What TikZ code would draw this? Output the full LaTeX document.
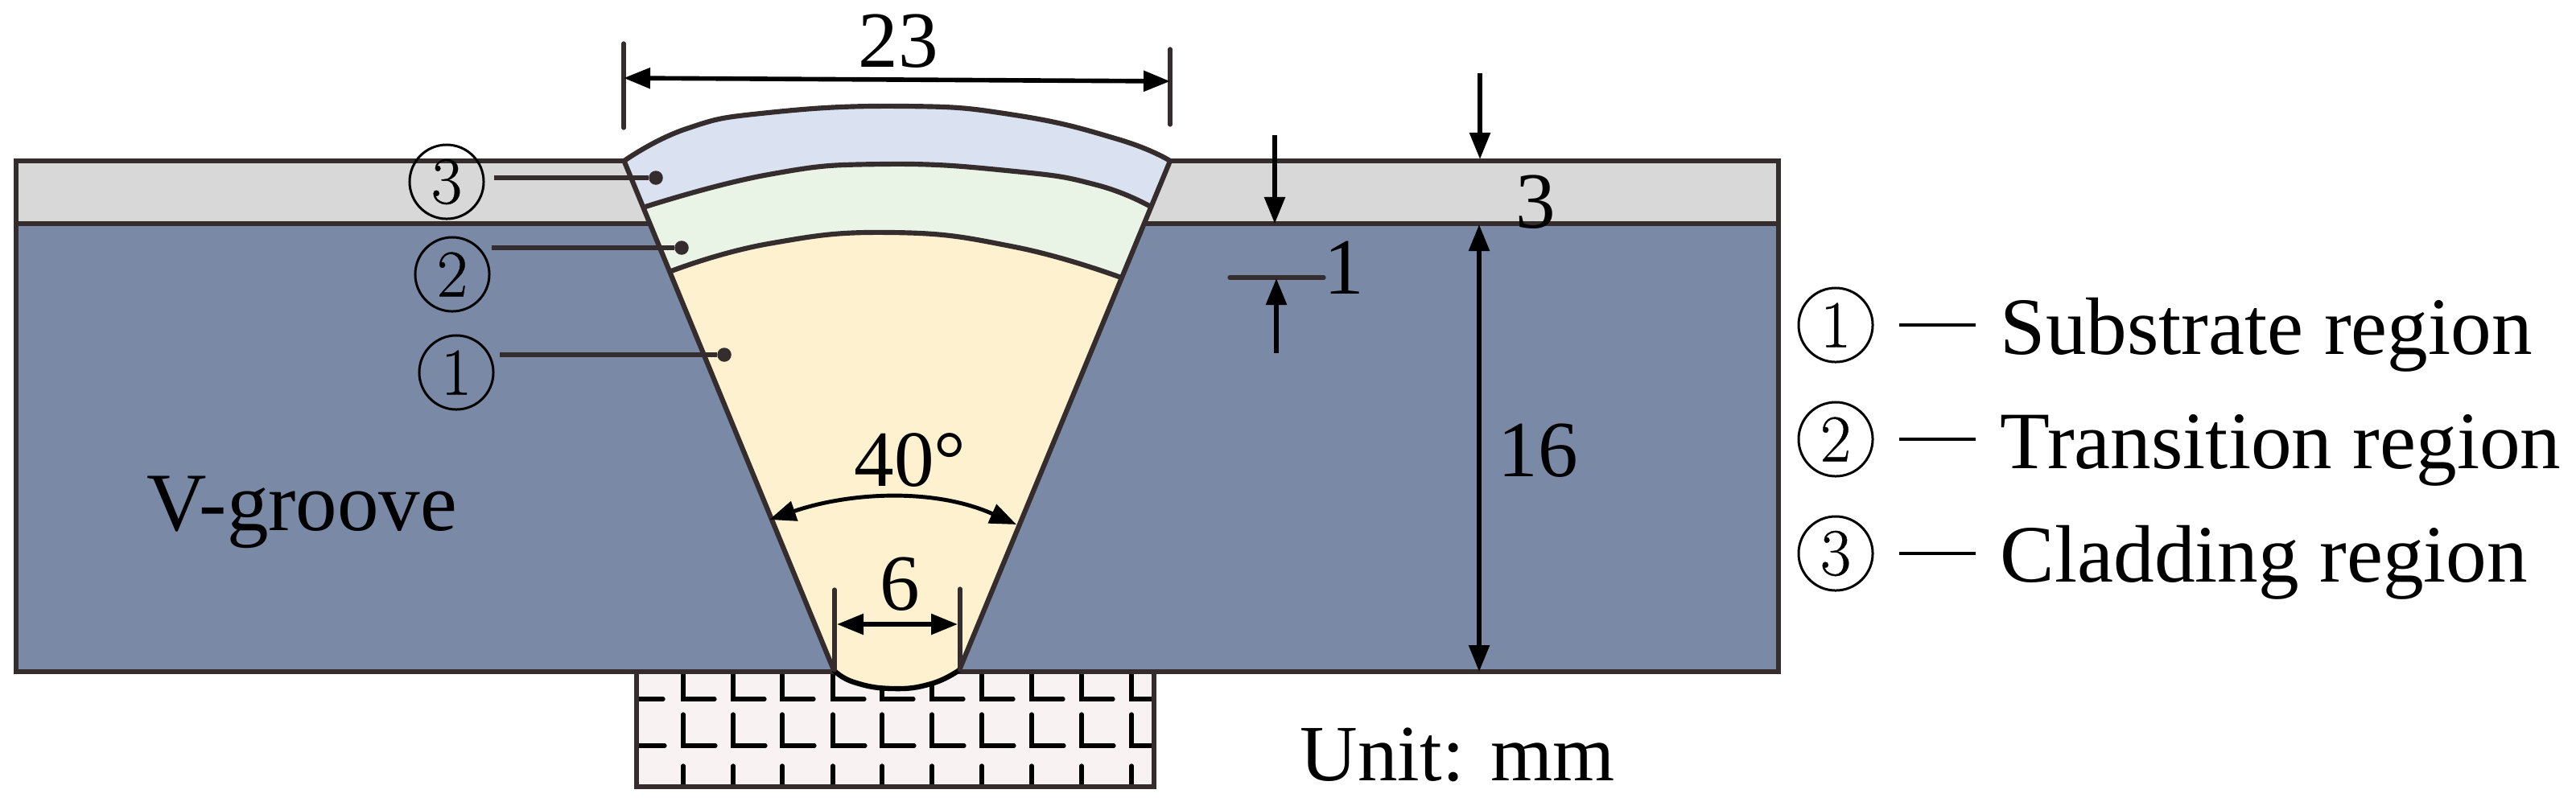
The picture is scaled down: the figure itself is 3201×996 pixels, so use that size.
\documentclass[tikz,border=0pt]{standalone}
\usepackage{fontspec}
\newfontfamily\tms{Liberation Serif}
\newfontfamily\lmheavy{Latin Modern Roman}[FakeBold=0.5]
\usetikzlibrary{arrows.meta}
\definecolor{ln}{HTML}{352D2D}
\definecolor{basecol}{HTML}{7A89A6}
\definecolor{cladcol}{HTML}{D8D8D8}
\definecolor{rthree}{HTML}{DAE1F0}
\definecolor{rtwo}{HTML}{EAF4E6}
\definecolor{rone}{HTML}{FEF1D0}
\definecolor{brick}{HTML}{F9F2F3}
\tikzset{
  x=0.01cm,y=-0.01cm,
  outline/.style={draw=ln,line width=1.75pt,line join=miter},
  thin line/.style={draw=ln,line width=1.5pt,line cap=round},
  dim/.style={draw=black,line width=1.6pt,line cap=butt},
  tipb/.style={-{Triangle[length=3.3mm,width=2.5mm]}},
  tipbb/.style={{Triangle[length=3.3mm,width=2.5mm]}-{Triangle[length=3.3mm,width=2.5mm]}},
  label text/.style={font=\tms\fontsize{28.2}{30}\selectfont,text=black,inner sep=0pt,anchor=base},
  legend text/.style={font=\tms\fontsize{28.8}{30}\selectfont,text=black,inner sep=0pt,anchor=base west},
  circled/.style={circle,draw=black,line width=0.85pt,minimum size=0.92cm,inner sep=0pt,font=\lmheavy\fontsize{23.6}{25}\selectfont,text=black},
  leader/.style={draw=ln,line width=1.6pt},
  leader dot/.style={circle,fill=ln,inner sep=0pt,minimum size=0.175cm},
  dash rule/.style={draw=black,line width=1.25pt},
  brick line/.style={draw=black,line width=1.5pt,line cap=round,line join=miter},
  curve/.style={smooth,tension=.8},
}
\begin{document}
\begin{tikzpicture}
\useasboundingbox (0,0) rectangle (3201,996);
% corners of the weld
\coordinate (TL) at (775.5,200);
\coordinate (TR) at (1454,200);
\coordinate (BL) at (1036,833);
\coordinate (BR) at (1192,833);
\coordinate (ML) at (802,257);
\coordinate (MR) at (1430,257);
\coordinate (LL) at (834,337);
\coordinate (LR) at (1393,345);
% backing block
\fill[brick] (791,835) rectangle (1434,978);
\foreach \x in {849,911,972,1035,1096,1158,1220,1282,1344}{
  \draw[brick line] (\x,835) -- (\x,869) -- ++(39,0);
  \draw[brick line] (\x,888) -- (\x,927) -- ++(40,0);
  \draw[brick line] (\x,952) -- (\x,977);
}
\draw[brick line] (1406,835) -- (1406,869) -- (1431,869);
\draw[brick line] (1406,888) -- (1406,927) -- (1431,927);
\draw[brick line] (1406,952) -- (1406,977);
\draw[brick line] (793,869) -- (824,869);
\draw[brick line] (793,927) -- (826,927);
\draw[outline] (791,835) -- (791,978) -- (1434,978) -- (1434,835);
% plates
\fill[basecol] (20,278) rectangle (2210,835);
\fill[cladcol] (20,200) rectangle (2210,278);
\draw[outline] (20,200) rectangle (2210,835);
\draw[outline] (20,278) -- (2210,278);
% weld regions
\fill[rone] (BL) -- (LL) -- plot[curve] coordinates {(LL) (955,303) (1108,289) (1261,307) (LR)} -- (BR)
  -- plot[curve] coordinates {(BR) (1157,850) (1109,856) (1061,848) (BL)} -- cycle;
\fill[rtwo] plot[curve] coordinates {(ML) (955,217) (1098,204) (1261,213) (1363,230) (MR)} -- (LR)
  -- plot[curve] coordinates {(LR) (1261,307) (1108,289) (955,303) (LL)} -- cycle;
\fill[rthree] plot[curve] coordinates {(TL) (853,160) (955,140) (1123,132) (1261,143) (1389,173) (TR)} -- (MR)
  -- plot[curve] coordinates {(MR) (1363,230) (1261,213) (1098,204) (955,217) (ML)} -- cycle;
\draw[outline] (TL) -- (BL);
\draw[outline] (TR) -- (BR);
\draw[outline] plot[curve] coordinates {(TL) (853,160) (955,140) (1123,132) (1261,143) (1389,173) (TR)};
\draw[outline] plot[curve] coordinates {(ML) (955,217) (1098,204) (1261,213) (1363,230) (MR)};
\draw[outline] plot[curve] coordinates {(LL) (955,303) (1108,289) (1261,307) (LR)};
\draw[draw=black,line width=1.8pt] plot[curve] coordinates {(BL) (1061,848) (1109,856) (1157,850) (BR)};
% dimension 23
\coordinate (a1) at (775,54); \coordinate (a2) at (775,159);
\coordinate (b1) at (1454,61); \coordinate (b2) at (1454,155);
\draw[thin line] (a1) -- (a2);
\draw[thin line] (b1) -- (b2);
\coordinate (c1) at (775,97); \coordinate (c2) at (1454,101);
\draw[dim,tipbb] (c1) -- (c2);
\node[label text] (t23) at (1116,83) {23};
% dimension 6
\coordinate (d1) at (1037,733); \coordinate (d2) at (1037,833);
\coordinate (e1) at (1193,732); \coordinate (e2) at (1193,833);
\draw[thin line] (d1) -- (d2);
\draw[thin line] (e1) -- (e2);
\coordinate (f1) at (1040,776); \coordinate (f2) at (1190,776);
\draw[dim,tipbb] (f1) -- (f2);
\node[label text] (t6) at (1118,758) {6};
% angle
\coordinate (g1) at (956,646); \coordinate (g2) at (1263,652);
\draw[draw=black,line width=1.4pt,tipbb] (g1) .. controls (1055,612) and (1160,606) .. (g2);
\node[label text] (t40) at (1131,604) {40°};
% dimension 1
\coordinate (h1) at (1584,168); \coordinate (h2) at (1584,278);
\draw[dim,tipb] (h1) -- (h2);
\coordinate (i1) at (1528,345); \coordinate (i2) at (1645,345);
\draw[thin line] (i1) -- (i2);
\coordinate (j1) at (1586,439); \coordinate (j2) at (1586,346);
\draw[dim,tipb] (j1) -- (j2);
\node[label text] (t1) at (1670,365) {1};
% dimensions 3 and 16
\coordinate (k1) at (1839,91); \coordinate (k2) at (1839,198);
\draw[dim,tipb] (k1) -- (k2);
\node[label text] (t3) at (1908,283) {3};
\coordinate (l1) at (1838,279); \coordinate (l2) at (1838,835);
\draw[dim,tipbb] (l1) -- (l2);
\node[label text] (t16) at (1911,592) {16};
% region labels
\node[leader dot] (p3) at (815,221) {};
\node[leader dot] (p2) at (847,308) {};
\node[leader dot] (p1) at (900,441) {};
\coordinate (q3) at (614,221);
\coordinate (q2) at (611,308);
\coordinate (q1) at (621,441);
\draw[leader] (q3) -- (p3);
\draw[leader] (q2) -- (p2);
\draw[leader] (q1) -- (p1);
\node[circled] (c3) at (555,226) {3};
\node[circled] (c2) at (562,341) {2};
\node[circled] (c1) at (567,463) {1};
% legend
\node[circled] (lc1) at (2281,404) {1};
\node[circled] (lc2) at (2281,546) {2};
\node[circled] (lc3) at (2281,688) {3};
\coordinate (m1) at (2360,404); \coordinate (m1b) at (2455,404);
\coordinate (m2) at (2360,546); \coordinate (m2b) at (2455,546);
\coordinate (m3) at (2360,688); \coordinate (m3b) at (2455,688);
\draw[dash rule] (m1) -- (m1b);
\draw[dash rule] (m2) -- (m2b);
\draw[dash rule] (m3) -- (m3b);
\node[legend text] (s1) at (2485,440) {Substrate region};
\node[legend text] (s2) at (2485,582) {Transition region};
\node[legend text] (s3) at (2485,723) {Cladding region};
\node[label text,anchor=base west,font=\tms\fontsize{29.3}{30}\selectfont] (vg) at (182,659) {V-groove};
\node[label text,anchor=base west] (unit) at (1615,970) {Unit: mm};
\end{tikzpicture}
\end{document}
